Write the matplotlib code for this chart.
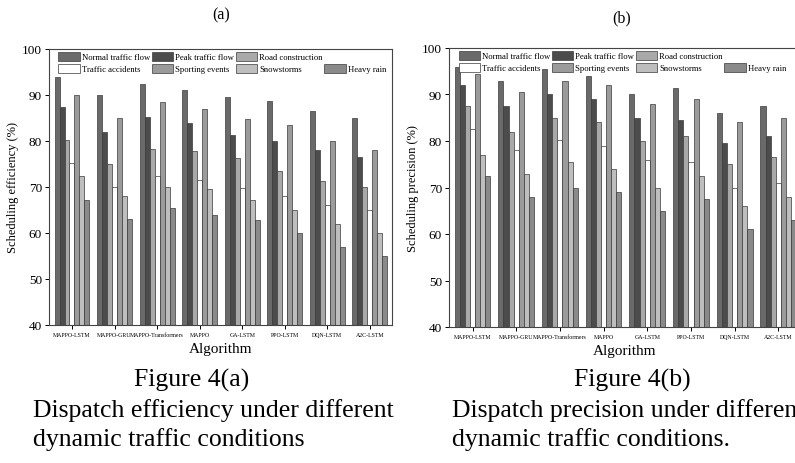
import numpy as np
import matplotlib.pyplot as plt
from matplotlib.patches import Rectangle

plt.rcParams['font.family'] = ['Liberation Serif', 'DejaVu Serif']

algorithms = ['MAPPO-LSTM', 'MAPPO-GRU', 'MAPPO-Transformers', 'MAPPO',
              'GA-LSTM', 'PPO-LSTM', 'DQN-LSTM', 'A2C-LSTM']
conditions = ['Normal traffic flow', 'Peak traffic flow', 'Road construction',
              'Traffic accidents', 'Sporting events', 'Snowstorms', 'Heavy rain']
colors = ['#6a6a6a', '#4c4c4c', '#a9a9a9', '#ffffff', '#9b9b9b', '#bebebe', '#8a8a8a']

# scheduling efficiency (%), one list per condition
eff_normal = [94, 90, 92.5, 91, 89.5, 88.7, 86.5, 85]
eff_peak = [87.5, 82, 85.3, 84, 81.2, 80, 78, 76.5]
eff_road = [80.3, 75, 78.2, 77.8, 76.4, 73.5, 71.2, 70]
eff_accident = [75.2, 70, 72.4, 71.5, 69.8, 68, 66, 65]
eff_sport = [90, 85, 88.5, 87, 84.7, 83.5, 80, 78]
eff_snow = [72.5, 68, 70, 69.5, 67.2, 65, 62, 60]
eff_rain = [67.2, 63, 65.5, 64, 62.8, 60, 57, 55]

# scheduling precision (%)
pre_normal = [96, 93, 95.5, 94, 90, 91.5, 86, 87.5]
pre_peak = [92, 87.5, 90, 89, 85, 84.5, 79.5, 81]
pre_road = [87.5, 82, 85, 84, 80, 81, 75, 76.5]
pre_accident = [82.5, 78, 80.2, 79, 76, 75.5, 70, 71]
pre_sport = [94.5, 90.5, 93, 92, 88, 89, 84, 85]
pre_snow = [77, 73, 75.5, 74, 70, 72.5, 66, 68]
pre_rain = [72.5, 68, 70, 69, 65, 67.5, 61, 63]

eff = [eff_normal, eff_peak, eff_road, eff_accident, eff_sport, eff_snow, eff_rain]
pre = [pre_normal, pre_peak, pre_road, pre_accident, pre_sport, pre_snow, pre_rain]

W, H = 795, 464
fig = plt.figure(figsize=(W / 100, H / 100), dpi=100)


def draw_panel(rect, data, ylabel):
    ax = fig.add_axes(rect)
    x = np.arange(len(algorithms))
    w = 0.117
    for i, vals in enumerate(data):
        ax.bar(x + (i - 3) * w, vals, w, color=colors[i], edgecolor='#3a3a3a',
               linewidth=0.5, label=conditions[i])
    ax.set_ylim(40, 100)
    ax.set_xlim(-0.54, 7.52)
    ax.set_yticks(range(40, 101, 10))
    ax.set_xticks(x)
    ax.set_xticklabels(algorithms, fontsize=4.2)
    ax.tick_params(axis='y', labelsize=9.5, length=3, width=0.7, pad=2)
    ax.tick_params(axis='x', length=3, width=0.7, pad=2)
    for s in ax.spines.values():
        s.set_linewidth(0.8)
        s.set_color('#444444')
    ax.set_ylabel(ylabel, fontsize=9, labelpad=2)
    ax.set_xlabel('Algorithm', fontsize=11, labelpad=4)
    h, l = ax.get_legend_handles_labels()
    blank = Rectangle((0, 0), 1, 1, visible=False)
    order_h = [h[0], h[3], h[1], h[4], h[2], h[5], blank, h[6]]
    order_l = [l[0], l[3], l[1], l[4], l[2], l[5], '', l[6]]
    ax.legend(order_h, order_l, ncol=4, loc='upper left', bbox_to_anchor=(0.015, 1.005),
              fontsize=6.2, frameon=False, handlelength=2.5, handleheight=1.2,
              columnspacing=0.15, handletextpad=0.25, labelspacing=0.3,
              borderaxespad=0.1)
    return ax


axa = draw_panel([49 / W, 1 - 326 / H, 343 / W, 276 / H], eff, 'Scheduling efficiency (%)')
axb = draw_panel([449 / W, 1 - 328 / H, 352 / W, 279 / H], pre, 'Scheduling precision (%)')

fig.text(221 / W, 1 - 15 / H, '(a)', fontsize=11.5, ha='center', va='center')
fig.text(622 / W, 1 - 18 / H, '(b)', fontsize=11.5, ha='center', va='center')

fs = 18.5
fig.text(192 / W, 1 - 380 / H, 'Figure 4(a)', fontsize=fs, ha='center', va='center')
fig.text(33 / W, 1 - 411 / H, 'Dispatch efficiency under different', fontsize=fs, va='center')
fig.text(33 / W, 1 - 440 / H, 'dynamic traffic conditions', fontsize=fs, va='center')
fig.text(632 / W, 1 - 380 / H, 'Figure 4(b)', fontsize=fs, ha='center', va='center')
fig.text(452 / W, 1 - 411 / H, 'Dispatch precision under different', fontsize=fs, va='center')
fig.text(452 / W, 1 - 440 / H, 'dynamic traffic conditions.', fontsize=fs, va='center')

fig.savefig('out.png', dpi=100)
